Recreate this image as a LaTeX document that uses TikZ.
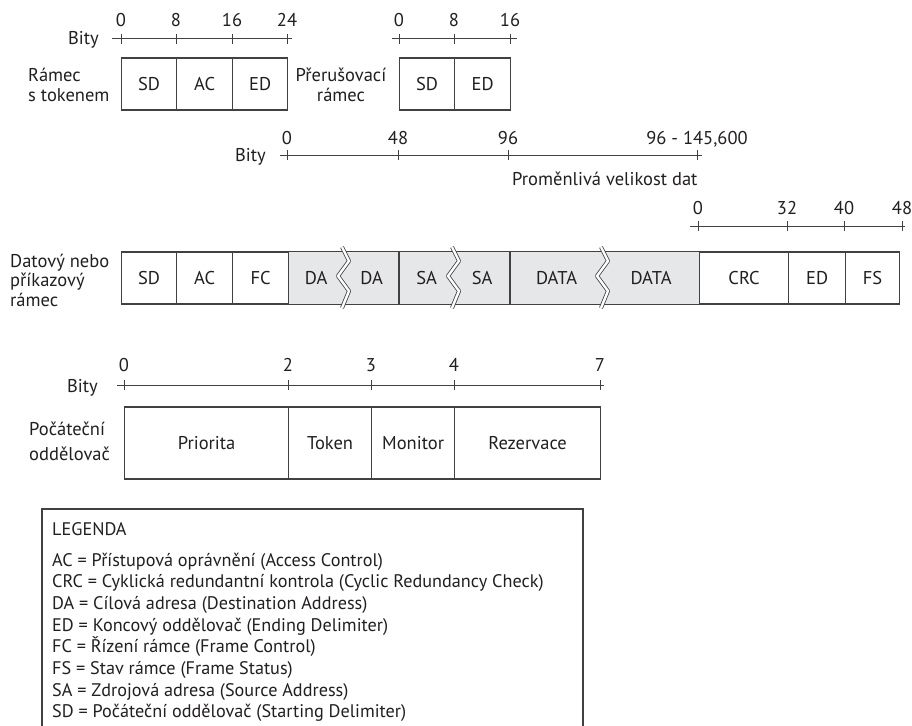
\documentclass[tikz,border=0pt]{standalone}
\usepackage{fontspec}
\setmainfont{PT Sans}
\usepackage{xcolor}
\usetikzlibrary{positioning}
\definecolor{inkgray}{HTML}{231F20}
\definecolor{linegray}{HTML}{414042}
\definecolor{shadegray}{HTML}{E6E7E8}

\begin{document}
\begin{tikzpicture}[
  x=1pt, y=-1pt,
  every node/.style={font=\fontsize{18.5}{20.5}\selectfont, text=inkgray},
  field/.style={draw=linegray, line width=1.2pt, fill=white, anchor=west,
                minimum height=52pt, inner sep=0pt},
  gfield/.style={field, draw=none, fill=shadegray},
  frame/.style={draw=linegray, line width=1.2pt},
  axis/.style={draw=linegray, line width=1pt},
  bitlabel/.style={anchor=base, inner sep=0pt},
  rowlabel/.style={align=left, anchor=base west, inner sep=0pt},
  brk/.style={draw=linegray, line width=0.8pt, double=white,
              double distance=2.4pt, line join=round},
  legtext/.style={anchor=base west, inner sep=0pt,
                  font=\fontsize{18.2}{20}\selectfont}
]

% ---- Canvas ----
\path[use as bounding box, fill=white] (0,0) rectangle (912,725);

% ---- Ramec s tokenem ----
\node[anchor=base east, inner sep=0pt] (bity1) at (99,45) {Bity};
\coordinate (ax1a) at (112,39);
\coordinate (ax1b) at (292,39);
\draw[axis] (ax1a) -- (ax1b);
\foreach \x/\b [count=\i] in {121/0,176/8,232/16,287/24}{
  \draw[axis] (\x,34) -- (\x,44);
  \node[bitlabel] (ta\i) at (\x,27) {\b};
}
\node[rowlabel] (lbltok) at (28,101.5) {Rámec\\s tokenem};
\node[field, minimum width=55pt] (tsd) at (121,84) {SD};
\node[field, minimum width=56pt] (tac) at (176,84) {AC};
\node[field, minimum width=55pt] (ted) at (232,84) {ED};

% ---- Prerusovaci ramec ----
\coordinate (ax2a) at (392,39);
\coordinate (ax2b) at (517,39);
\draw[axis] (ax2a) -- (ax2b);
\foreach \x/\b [count=\i] in {399/0,454/8,510/16}{
  \draw[axis] (\x,34) -- (\x,44);
  \node[bitlabel] (aa\i) at (\x,27) {\b};
}
\node[rowlabel, align=center, anchor=base] (lblabort) at (341,101.5) {Přerušovací\\rámec};
\node[field, minimum width=55pt] (asd) at (399,84) {SD};
\node[field, minimum width=56pt] (aed) at (454,84) {ED};

% ---- Bity: header + data ----
\node[anchor=base east, inner sep=0pt] (bity2) at (266,161) {Bity};
\coordinate (ax3a) at (280,155);
\coordinate (ax3b) at (702,155);
\draw[axis] (ax3a) -- (ax3b);
\foreach \x/\b [count=\i] in {287/0,398/48,508/96,697/{96 - 145,600}}{
  \draw[axis] (\x,150) -- (\x,160);
  \node[bitlabel] (ma\i) at (\x,144) {\b};
}
\node[anchor=base west, inner sep=0pt] (varlbl) at (512,185) {Proměnlivá velikost dat};

% ---- Bity: trailer ----
\coordinate (ax4a) at (690,226);
\coordinate (ax4b) at (905,226);
\draw[axis] (ax4a) -- (ax4b);
\foreach \x/\b [count=\i] in {698/0,787/32,844/40,902/48}{
  \draw[axis] (\x,221) -- (\x,231);
  \node[bitlabel] (ra\i) at (\x,214) {\b};
}

% ---- Datovy nebo prikazovy ramec ----
\node[rowlabel, font=\fontsize{18.5}{19.5}\selectfont] (lbldata) at (10,306)
    {Datový nebo\\příkazový\\rámec};
\node[field, minimum width=55pt] (dsd)   at (121,278) {SD};
\node[field, minimum width=56pt] (dac)   at (176,278) {AC};
\node[field, minimum width=56pt] (dfc)   at (232,278) {FC};
\node[gfield, minimum width=55pt] (dda1)  at (288,278) {DA};
\node[gfield, minimum width=56pt] (dda2)  at (343,278) {DA};
\node[gfield, minimum width=54pt] (dsa1)  at (399,278) {SA};
\node[gfield, minimum width=57pt] (dsa2)  at (453,278) {SA};
\node[gfield, minimum width=92pt] (ddat1) at (510,278) {DATA};
\node[gfield, minimum width=97pt] (ddat2) at (602,278) {DATA};
\node[field, minimum width=89pt] (dcrc)  at (699,278) {CRC};
\node[field, minimum width=57pt] (ded)   at (788,278) {ED};
\node[field, minimum width=54pt] (dfs)   at (845,278) {FS};
\draw[frame] (dda1.north west) -- (ddat2.north east);
\draw[frame] (dda1.south west) -- (ddat2.south east);
\draw[frame] (dsa1.north west) -- (dsa1.south west);
\draw[frame] (ddat1.north west) -- (ddat1.south west);
% variable length breaks
\foreach \c in {343,453,602}{
  \draw[brk] (\c-1,247) -- (\c+6,261) -- (\c-5,276) -- (\c+6,291) -- (\c-1,308);
}

% ---- Pocatecni oddelovac ----
\node[anchor=base east, inner sep=0pt] (bity3) at (98,392) {Bity};
\coordinate (ax5a) at (117,385);
\coordinate (ax5b) at (604,385);
\draw[axis] (ax5a) -- (ax5b);
\foreach \x/\b [count=\i] in {124/0,288/2,371/3,454/4,600/7}{
  \draw[axis] (\x,380) -- (\x,390);
  \node[bitlabel] (sa\i) at (\x,371) {\b};
}
\node[rowlabel, font=\fontsize{18.5}{25}\selectfont] (lblstart) at (29,460)
    {Počáteční\\oddělovač};
\node[field, minimum width=164pt, minimum height=72pt] (spri) at (124,443) {Priorita};
\node[field, minimum width=83pt, minimum height=72pt]  (stok) at (288,443) {Token};
\node[field, minimum width=83pt, minimum height=72pt]  (smon) at (371,443) {Monitor};
\node[field, minimum width=146pt, minimum height=72pt] (srez) at (454,443) {Rezervace};

% ---- Legenda ----
\coordinate (lgbl) at (42,740);
\coordinate (lgtl) at (42,509);
\coordinate (lgtr) at (583,509);
\coordinate (lgbr) at (583,740);
\draw[frame] (lgbl) -- (lgtl) -- (lgtr) -- (lgbr);
\node[legtext] (legtitle) at (52,535) {LEGENDA};
\foreach \t [count=\i] in {AC = Přístupová oprávnění (Access Control),
    CRC = Cyklická redundantní kontrola (Cyclic Redundancy Check),
    DA = Cílová adresa (Destination Address),
    ED = Koncový oddělovač (Ending Delimiter),
    FC = Řízení rámce (Frame Control),
    FS = Stav rámce (Frame Status),
    SA = Zdrojová adresa (Source Address),
    SD = Počáteční oddělovač (Starting Delimiter)}{
  \node[legtext] (leg\i) at (52,566+21.7*\i-21.7) {\t};
}

\end{tikzpicture}
\end{document}
